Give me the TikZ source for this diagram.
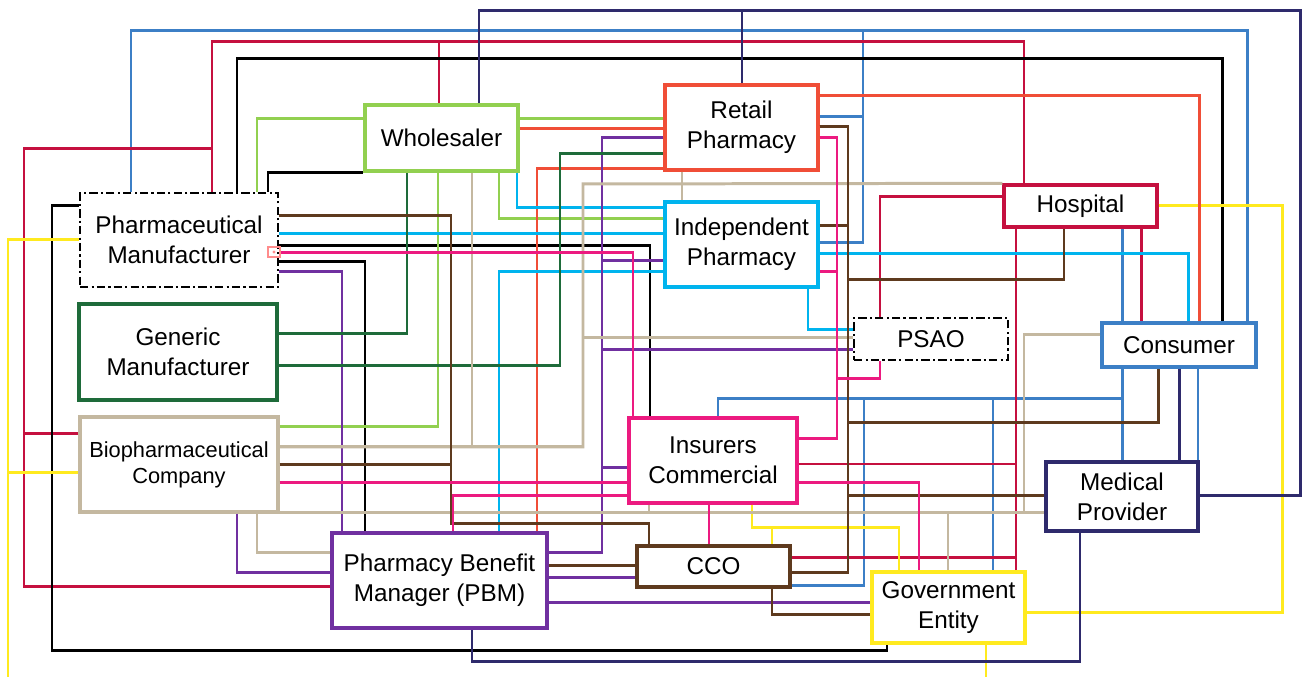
\documentclass[tikz,border=0pt]{standalone}
\usepackage{fontspec}
\setmainfont{Liberation Sans}
\usepackage{tikz}
\definecolor{conblue}{HTML}{3C7FC6}
\definecolor{hoscrim}{HTML}{C5103F}
\definecolor{govyellow}{HTML}{FFEA1F}
\definecolor{whgreen}{HTML}{92D050}
\definecolor{rpred}{HTML}{F04E37}
\definecolor{ipcyan}{HTML}{00B4EE}
\definecolor{pbmpurple}{HTML}{7030A0}
\definecolor{gmgreen}{HTML}{1E6B3A}
\definecolor{biotan}{HTML}{C4B8A0}
\definecolor{ccobrown}{HTML}{5E3A1E}
\definecolor{inspink}{HTML}{EC1A80}
\definecolor{mpnavy}{HTML}{2E2A6C}
\def\lw{0.85pt}
\tikzset{
	entity/.style={
		rectangle,
		draw,
		fill=white,
		line width=0.95pt,
		align=center,
		inner sep=0pt,
		font=\fontsize{6.9}{8.6}\selectfont,
	},
	dashdot/.style={
		line width=0.6pt,
		dash pattern=on 2.4pt off 0.9pt on 0.6pt off 0.9pt,
	},
	wire/.style={line width=\lw},
}
\begin{document}
\begin{tikzpicture}[x=0.01cm, y=-0.01cm]
\fill[white] (0,0) rectangle (1305,677);
\useasboundingbox (0,0) rectangle (1305,677);

\node[entity, draw=black, dashdot, minimum width=1.98cm, minimum height=0.94cm] (pm) at (179,240) {Pharmaceutical\\Manufacturer};
\node[entity, draw=gmgreen, minimum width=1.98cm, minimum height=0.96cm] (gm) at (178,352) {Generic\\Manufacturer};
\node[entity, draw=biotan, minimum width=1.98cm, minimum height=0.95cm, font=\fontsize{6.2}{7.4}\selectfont] (bio) at (179,464.5) {Biopharmaceutical\\Company};
\node[entity, draw=whgreen, minimum width=1.53cm, minimum height=0.66cm] (wh) at (441.5,138) {Wholesaler};
\node[entity, draw=rpred, minimum width=1.53cm, minimum height=0.85cm] (rp) at (741.5,127.5) {Retail\\Pharmacy};
\node[entity, draw=ipcyan, minimum width=1.53cm, minimum height=0.85cm] (ip) at (741.5,244.5) {Independent\\Pharmacy};
\node[entity, draw=hoscrim, minimum width=1.53cm, minimum height=0.42cm] (hosp) at (1080.5,206) {Hospital};
\node[entity, draw=black, dashdot, line width=0.45pt, minimum width=1.54cm, minimum height=0.42cm] (psao) at (931,339) {PSAO};
\node[entity, draw=conblue, minimum width=1.54cm, minimum height=0.44cm] (con) at (1179,345) {Consumer};
\node[entity, draw=inspink, minimum width=1.68cm, minimum height=0.85cm] (ins) at (713,460.5) {Insurers\\Commercial};
\node[entity, draw=mpnavy, minimum width=1.52cm, minimum height=0.69cm] (mp) at (1122,496.5) {Medical\\Provider};
\node[entity, draw=pbmpurple, minimum width=2.15cm, minimum height=0.95cm] (pbm) at (439.5,580.5) {Pharmacy Benefit\\Manager (PBM)};
\node[entity, draw=ccobrown, minimum width=1.53cm, minimum height=0.41cm] (cco) at (713.5,566.5) {CCO};
\node[entity, draw=govyellow, minimum width=1.53cm, minimum height=0.71cm] (gov) at (948.5,607.5) {Government\\Entity};

%% consumer
\draw[wire, conblue] (pm.north -| 131,0) |- (1247,31) -- (con.north -| 1247,0);
\draw[wire, conblue] (ip.east |- 0,243) -| (863,31) -| (con.north -| 1247,0);
\draw[wire, conblue] (rp.east |- 0,117) -| (863,31) -| (con.north -| 1247,0);
\draw[wire, conblue] (hosp.south -| 1122,0) -- (con.north -| 1122,0);
\draw[wire, conblue] (con.south -| 1122,0) -- (mp.north -| 1122,0);
\draw[wire, conblue] (con.south -| 1122,0) |- (718,399) -- (ins.north -| 718,0);
\draw[wire, conblue] (con.south -| 1122,0) |- (864,399) |- (cco.east |- 0,586);
\draw[wire, conblue] (con.south -| 1122,0) |- (993,399) -- (gov.north -| 993,0);
\draw[conblue, line width=0.5pt] (con.south -| 1198,0) -- (mp.north -| 1198,0);

%% hospital
\draw[wire, hoscrim] (pm.north -| 212,0) |- (1024,42) -- (hosp.north -| 1024,0);
\draw[wire, hoscrim] (wh.north -| 439,0) |- (1024,42) -- (hosp.north -| 1024,0);
\draw[wire, hoscrim] (pbm.west |- 0,587) -| (24,149) -| (212,42) -| (hosp.north -| 1024,0);
\draw[wire, hoscrim] (bio.west |- 0,434) -| (24,149) -| (212,42) -| (hosp.north -| 1024,0);
\draw[wire, hoscrim] (hosp.west |- 0,197) -| (psao.north -| 880,0);
\draw[wire, hoscrim] (hosp.south -| 1016,0) -- (gov.north -| 1016,0);
\draw[hoscrim, line width=0.6pt] (ins.east |- 0,464) -| (hosp.south -| 1016,0);
\draw[wire, hoscrim] (cco.east |- 0,558) -| (hosp.south -| 1016,0);
\draw[wire, hoscrim] (hosp.south -| 1141,0) -- (con.north -| 1141,0);

%% manufacturer
\draw[wire, black] (pm.north -| 237,0) |- (1222,59) -- (con.north -| 1222,0);
\draw[wire, black] (pm.north -| 268,0) |- (wh.south west);
\draw[wire, black] (pm.west |- 0,206) -| (52,651) -| (gov.south -| 887,0);
\draw[wire, black] (pm.east |- 0,246) -| (ins.north -| 650,0);
\draw[wire, black] (pm.east |- 0,262) -| (pbm.north -| 365,0);

%% government
\draw[wire, govyellow] (pm.west |- 0,240) -| (8,677);
\draw[wire, govyellow] (bio.west |- 0,473) -| (8,677);
\draw[wire, govyellow] (hosp.east |- 0,206) -| (1282,613) -- (gov.east |- 0,613);
\draw[wire, govyellow] (gov.south -| 986,0) -- (986,677);
\draw[wire, govyellow] (ins.south -| 752,0) |- (899,528) -- (gov.north -| 899,0);
\draw[wire, govyellow] (ins.south -| 752,0) |- (772,528) -- (cco.north -| 772,0);

%% wholesaler
\draw[wire, whgreen] (pm.north -| 257,0) |- (wh.west |- 0,119);
\draw[wire, whgreen] (wh.east |- 0,119) -- (rp.west |- 0,119);
\draw[wire, whgreen] (wh.south -| 499,0) |- (ip.west |- 0,219);
\draw[wire, whgreen] (wh.south -| 438,0) |- (bio.east |- 0,427);

%% retail
\draw[wire, rpred] (wh.east |- 0,129) -- (rp.west |- 0,129);
\draw[wire, rpred] (rp.west |- 0,169) -| (pbm.north -| 537,0);
\draw[wire, rpred] (rp.east |- 0,96) -| (con.north -| 1199,0);

%% independent
\draw[wire, ipcyan] (wh.south -| 517,0) |- (ip.west |- 0,208);
\draw[wire, ipcyan] (pm.east |- 0,234) -- (ip.west |- 0,234);
\draw[wire, ipcyan] (ip.west |- 0,272) -| (pbm.north -| 499,0);
\draw[wire, ipcyan] (ip.east |- 0,254) -| (con.north -| 1188,0);
\draw[wire, ipcyan] (ip.south -| 808,0) |- (psao.west |- 0,330);

%% pbm
\draw[wire, pbmpurple] (pm.east |- 0,272) -| (pbm.north -| 342,0);
\draw[wire, pbmpurple] (rp.west |- 0,138) -| (602,553) -- (pbm.east |- 0,553);
\draw[wire, pbmpurple] (ip.west |- 0,261) -| (602,553) -- (pbm.east |- 0,553);
\draw[wire, pbmpurple] (psao.west |- 0,350) -| (602,553) -- (pbm.east |- 0,553);
\draw[wire, pbmpurple] (ins.west |- 0,468) -| (602,553) -- (pbm.east |- 0,553);
\draw[wire, pbmpurple] (bio.south -| 237,0) |- (pbm.west |- 0,573);
\draw[wire, pbmpurple] (pbm.east |- 0,578) -- (cco.west |- 0,578);
\draw[wire, pbmpurple] (pbm.east |- 0,603) -- (gov.west |- 0,603);

%% generic
\draw[wire, gmgreen] (gm.east |- 0,334) -| (wh.south -| 407,0);
\draw[wire, gmgreen] (gm.east |- 0,366) -| (560,154) -- (rp.west |- 0,154);

%% biopharma
\draw[wire, biotan] (wh.south -| 472,0) |- (bio.east |- 0,447);
\draw[wire, biotan] (bio.east |- 0,447) -| (583,184) -- (hosp.north west);
\draw[wire, biotan] (bio.east |- 0,447) -| (583,338) -- (psao.west |- 0,338);
\draw[wire, biotan] (rp.south -| 682,0) -- (ip.north -| 682,0);
\draw[wire, biotan] (bio.east |- 0,513) -- (mp.west |- 0,513);
\draw[wire, biotan] (con.west |- 0,335) -| (1024,513) -- (mp.west |- 0,513);
\draw[wire, biotan] (con.west |- 0,335) -| (1024,513) -| (gov.north -| 948,0);
\draw[wire, biotan] (ins.south -| 649,0) |- (mp.west |- 0,513);
\draw[wire, biotan] (bio.south -| 257,0) |- (pbm.west |- 0,553);

%% cco
\draw[wire, ccobrown] (pm.east |- 0,216) -| (451,524) -| (cco.north -| 649,0);
\draw[wire, ccobrown] (bio.east |- 0,465) -| (451,524) -| (cco.north -| 649,0);
\draw[wire, ccobrown] (rp.east |- 0,127) -| (848,573) -- (cco.east |- 0,573);
\draw[wire, ccobrown] (ip.east |- 0,226) -| (848,573) -- (cco.east |- 0,573);
\draw[wire, ccobrown] (rp.east |- 0,127) -| (848,280) -| (hosp.south -| 1064,0);
\draw[wire, ccobrown] (rp.east |- 0,127) -| (848,423) -| (con.south -| 1158,0);
\draw[wire, ccobrown] (rp.east |- 0,127) -| (848,496) -- (mp.west |- 0,496);
\draw[wire, ccobrown] (pbm.east |- 0,566) -- (cco.west |- 0,566);
\draw[wire, ccobrown] (cco.south -| 772,0) |- (gov.west |- 0,615);

%% insurers
\draw[wire, inspink] (pm.east |- 0,253) -| (ins.north -| 633,0);
\draw[wire, inspink] (rp.east |- 0,138) -| (837,439) -- (ins.east |- 0,439);
\draw[wire, inspink] (ip.east |- 0,272) -| (837,439) -- (ins.east |- 0,439);
\draw[wire, inspink] (rp.east |- 0,138) -| (837,379) -| (psao.south -| 880,0);
\draw[wire, inspink] (bio.east |- 0,483) -- (ins.west |- 0,483);
\draw[wire, inspink] (pbm.north -| 453,0) |- (ins.west |- 0,496);
\draw[wire, inspink] (ins.east |- 0,483) -| (gov.north -| 919,0);
\draw[wire, inspink] (ins.south -| 709,0) -- (cco.north -| 709,0);

%% medical provider
\draw[wire, mpnavy] (wh.north -| 479,0) |- (1300,11) |- (mp.east |- 0,496);
\draw[wire, mpnavy] (rp.north -| 742,0) |- (1300,11) |- (mp.east |- 0,496);
\draw[wire, mpnavy] (con.south -| 1179,0) -- (mp.north -| 1179,0);
\draw[wire, mpnavy] (mp.south -| 1080,0) |- (472,662) -- (pbm.south -| 472,0);

% anchor mark
\draw[red!45, line width=0.6pt] (268,247) rectangle (280,257);
\fill[red!45] (274,252) circle (1.6);
\end{tikzpicture}
\end{document}
